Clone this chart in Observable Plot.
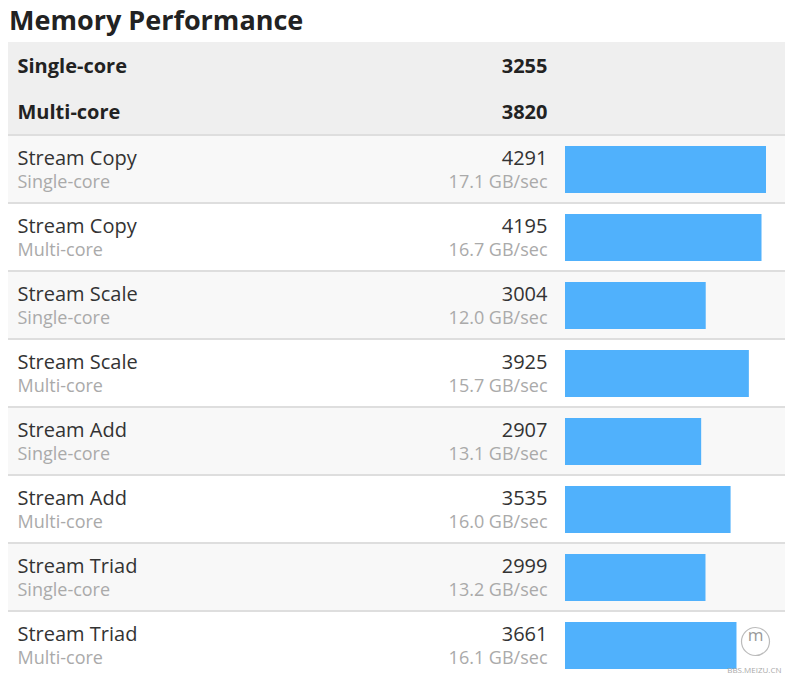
<!DOCTYPE html>
<html>
<head>
<meta charset="utf-8">
<script src="https://cdn.jsdelivr.net/npm/d3@7"></script>
<script src="https://cdn.jsdelivr.net/npm/@observablehq/plot@0.6"></script>
<style>
  html, body { margin: 0; padding: 0; background: #fff; }
  body { width: 785px; height: 680px; overflow: hidden; font-family: "Open Sans", sans-serif; }
  #title { height: 42px; margin: 0; padding-left: 9px; box-sizing: border-box;
           font-size: 27px; font-weight: 700; color: #222; line-height: 40px; }
  #wrap { padding-left: 8px; }
  #wrap svg { display: block; }
</style>
</head>
<body>
<div id="title">Memory Performance</div>
<div id="wrap"></div>
<script>
const summaryLabels = ["Single-core", "Multi-core"];
const summaryScores = [3255, 3820];

const tests = ["Stream Copy", "Stream Copy", "Stream Scale", "Stream Scale",
               "Stream Add", "Stream Add", "Stream Triad", "Stream Triad"];
const modes = ["Single-core", "Multi-core", "Single-core", "Multi-core",
               "Single-core", "Multi-core", "Single-core", "Multi-core"];
const scores = [4291, 4195, 3004, 3925, 2907, 3535, 2999, 3661];
const rates = ["17.1 GB/sec", "16.7 GB/sec", "12.0 GB/sec", "15.7 GB/sec",
               "13.1 GB/sec", "16.0 GB/sec", "13.2 GB/sec", "16.1 GB/sec"];

const W = 777;
const font = "Open Sans";

const summary = summaryLabels.map((label, i) => ({key: i, label, score: summaryScores[i]}));
const rows = tests.map((t, i) => ({key: i, test: t, mode: modes[i], score: scores[i], rate: rates[i]}));

const header = Plot.plot({
  width: W, height: 92,
  margin: 0,
  style: {fontFamily: font, background: "#efefef", overflow: "visible"},
  y: {type: "band", domain: summary.map(d => d.key), padding: 0, axis: null},
  marks: [
    Plot.text(summary, {y: "key", text: "label", frameAnchor: "left", dx: 9, dy: 1, textAnchor: "start",
      fontSize: 20, fontWeight: 700, fill: "#222"}),
    Plot.text(summary, {y: "key", text: d => String(d.score), frameAnchor: "right", dx: -238, dy: 1, textAnchor: "end",
      fontSize: 20, fontWeight: 700, fill: "#222"})
  ]
});

const body = Plot.plot({
  width: W, height: 544,
  margin: 0,
  style: {fontFamily: font, background: "#dedede", overflow: "visible"},
  x: {domain: [0, d3.max(scores)], range: [557, 758], axis: null},
  y: {type: "band", domain: rows.map(d => d.key), padding: 0, axis: null},
  marks: [
    Plot.cell(rows, {y: "key", fill: d => d.key % 2 === 0 ? "#f8f8f8" : "#ffffff", insetTop: 2}),
    Plot.barX(rows, {x: "score", y: "key", fill: "#50b1fc", insetTop: 12, insetBottom: 9}),
    Plot.text(rows, {y: "key", text: "test", frameAnchor: "left", dx: 9, dy: -10, textAnchor: "start",
      fontSize: 20, fill: "#333"}),
    Plot.text(rows, {y: "key", text: "mode", frameAnchor: "left", dx: 9, dy: 14, textAnchor: "start",
      fontSize: 18, fill: "#aaa"}),
    Plot.text(rows, {y: "key", text: d => String(d.score), frameAnchor: "right", dx: -238, dy: -10, textAnchor: "end",
      fontSize: 20, fill: "#333"}),
    Plot.text(rows, {y: "key", text: "rate", frameAnchor: "right", dx: -238, dy: 14, textAnchor: "end",
      fontSize: 18, fill: "#aaa"}),
    // watermark
    Plot.dot([0], {frameAnchor: "bottom-right", dx: -30, dy: -37, r: 14, stroke: "#bbb", strokeWidth: 1.2, fill: "none"}),
    Plot.text(["m"], {frameAnchor: "bottom-right", dx: -30, dy: -38, textAnchor: "middle", fontSize: 17, fill: "#999"}),
    Plot.text(["BBS.MEIZU.CN"], {frameAnchor: "bottom-right", dx: -4, dy: -6, textAnchor: "end", fontSize: 8, fill: "#aaa"})
  ]
});

const wrap = document.getElementById("wrap");
wrap.appendChild(header);
wrap.appendChild(body);
</script>
</body>
</html>
